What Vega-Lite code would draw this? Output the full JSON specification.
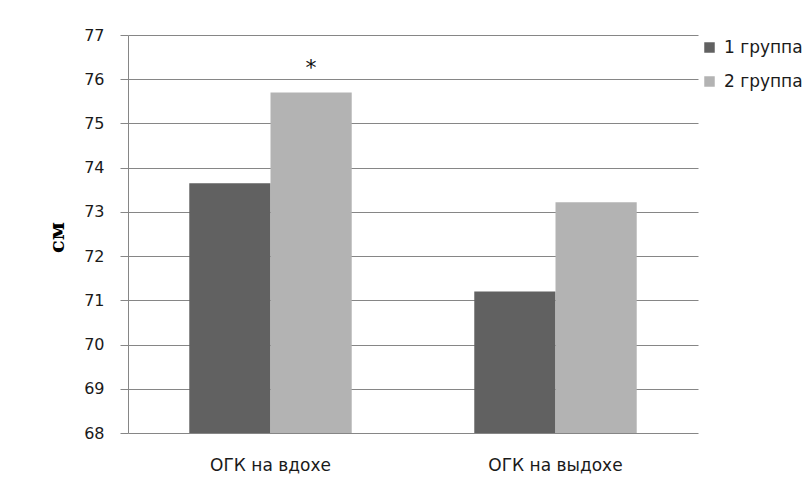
{
  "$schema": "https://vega.github.io/schema/vega-lite/v6.json",
  "autosize": {"type": "none"},
  "padding": {"left": 128, "top": 35, "right": 111, "bottom": 46},
  "width": 570,
  "height": 398,
  "background": "white",
  "config": {"view": {"stroke": null}},
  "data": {"values": [
    {"cat": "ОГК на вдохе", "group": "1 группа", "value": 73.65, "note": ""},
    {"cat": "ОГК на вдохе", "group": "2 группа", "value": 75.7, "note": "*"},
    {"cat": "ОГК на выдохе", "group": "1 группа", "value": 71.2, "note": ""},
    {"cat": "ОГК на выдохе", "group": "2 группа", "value": 73.22, "note": ""}
  ]},
  "encoding": {
    "x": {"field": "cat", "type": "nominal", "sort": null,
      "scale": {"paddingInner": 0.43, "paddingOuter": 0.215},
      "axis": {"title": null, "labelAngle": 0, "ticks": false, "domain": false, "labelPadding": 24,
        "labelFont": "DejaVu Sans", "labelFontSize": 17, "labelColor": "#1a1a1a"}},
    "xOffset": {"field": "group", "type": "nominal", "scale": {"paddingInner": 0, "paddingOuter": 0}},
    "y": {"field": "value", "type": "quantitative",
      "scale": {"domain": [68, 77], "nice": false, "zero": false},
      "axis": {"values": [68, 69, 70, 71, 72, 73, 74, 75, 76, 77], "grid": true, "gridColor": "#868686", "gridWidth": 1,
        "domainColor": "#868686", "tickColor": "#868686", "tickSize": 8, "labelPadding": 16,
        "labelFont": "DejaVu Sans", "labelFontSize": 16, "labelColor": "#1a1a1a",
        "title": "см", "titleFont": "DejaVu Serif", "titleFontSize": 21, "titleFontWeight": "bold", "titleColor": "#000",
        "titleX": -71, "titleY": 202, "titleAlign": "center", "titleBaseline": "middle", "titleAngle": -90}}
  },
  "layer": [
    {"mark": {"type": "bar"},
      "encoding": {
        "y2": {"datum": 68},
        "color": {"field": "group", "type": "nominal",
          "scale": {"domain": ["1 группа", "2 группа"], "range": ["#616161", "#b3b3b3"]},
          "legend": {"title": null, "orient": "none", "legendX": 573, "legendY": 4,
            "symbolType": "square", "symbolSize": 110, "symbolStrokeWidth": 0, "rowPadding": 16,
            "labelFont": "DejaVu Sans", "labelFontSize": 17, "labelColor": "#1a1a1a", "labelOffset": 6}}
      }},
    {"mark": {"type": "text", "baseline": "middle", "dy": -24, "font": "DejaVu Sans", "fontSize": 22, "color": "#111"},
      "encoding": {"text": {"field": "note"}}}
  ]
}
